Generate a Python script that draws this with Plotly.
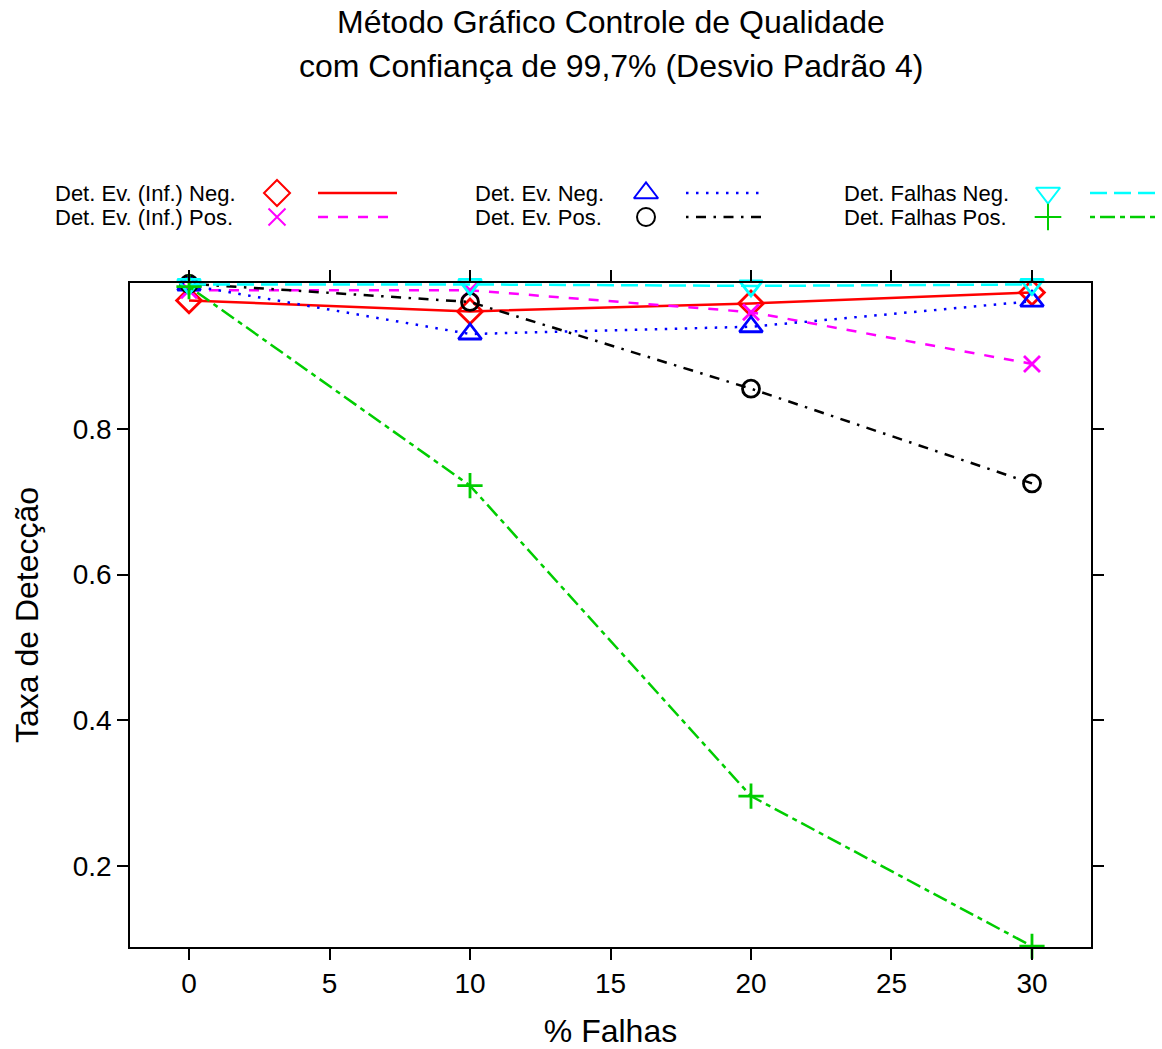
import plotly.graph_objects as go

W, H = 1162, 1049

falhas = [0, 10, 20, 30]
series_names = ["Det. Ev. (Inf.) Neg.", "Det. Ev. (Inf.) Pos.", "Det. Ev. Neg.",
                "Det. Ev. Pos.", "Det. Falhas Neg.", "Det. Falhas Pos."]
ev_inf_neg = [0.976, 0.961, 0.972, 0.987]
ev_inf_pos = [0.990, 0.990, 0.960, 0.889]
ev_neg = [0.997, 0.930, 0.940, 0.975]
ev_pos = [0.999, 0.974, 0.855, 0.725]
falhas_neg = [0.998, 0.998, 0.996, 0.998]
falhas_pos = [0.995, 0.722, 0.296, 0.090]
values = [ev_inf_neg, ev_inf_pos, ev_neg, ev_pos, falhas_neg, falhas_pos]

x_ticks = [0, 5, 10, 15, 20, 25, 30]
y_ticks = [0.2, 0.4, 0.6, 0.8]

colors = ["#FF0000", "#FF00FF", "#0000FF", "#000000", "#00FFFF", "#00CD00"]
symbols = ["diamond-open", "x-thin-open", "triangle-up-open", "circle-open",
           "triangle-down-open", "cross-thin-open"]
msizes = [19, 16, 20, 17, 20, 18]
dashes = ["solid", "10px,10px", "2.5px,7.5px", "2.5px,7.5px,10px,7.5px",
          "17px,7px", "5px,5px,15px,5px"]

# plot area in pixels
L, R, T, B = 130, 1091, 283, 947

fig = go.Figure()
for name, ys, c, s, ms, d in zip(series_names, values, colors, symbols, msizes, dashes):
    fig.add_trace(go.Scatter(
        x=falhas, y=ys, mode="lines+markers", name=name,
        line=dict(color=c, width=2.5, dash=d),
        marker=dict(symbol=s, size=ms, color=c, line=dict(color=c, width=2.8)),
        cliponaxis=False, showlegend=False, xaxis="x", yaxis="y"))

# custom legend (pixel coordinates on an overlay axis)
col_text_x = [54, 474, 843]
col_mark_x = [277, 646, 1048]
col_line_x = [(318, 397), (686, 765), (1090, 1160)]
row_y = [193, 217]
annotations = []
for i, (name, c, s, ms, d) in enumerate(zip(series_names, colors, symbols, msizes, dashes)):
    col, row = i // 2, i % 2
    ty = row_y[row]
    annotations.append(dict(xref="x2", yref="y2", x=col_text_x[col], y=ty, text=name,
                            showarrow=False, xanchor="left", yanchor="middle", borderpad=0,
                            font=dict(size=22, color="black")))
    fig.add_trace(go.Scatter(
        x=[col_mark_x[col]], y=[ty], mode="markers", xaxis="x2", yaxis="y2",
        marker=dict(symbol=s, size=ms + 1, color=c, line=dict(color=c, width=2)),
        showlegend=False, hoverinfo="skip", cliponaxis=False))
    x0, x1 = col_line_x[col]
    fig.add_trace(go.Scatter(
        x=[x0, x1], y=[ty, ty], mode="lines", xaxis="x2", yaxis="y2",
        line=dict(color=c, width=2.5, dash=d),
        showlegend=False, hoverinfo="skip", cliponaxis=False))

annotations += [
    dict(xref="paper", yref="paper", x=611 / W, y=1 - 22 / H, text="Método Gráfico Controle de Qualidade",
         showarrow=False, xanchor="center", yanchor="middle", font=dict(size=32, color="black")),
    dict(xref="paper", yref="paper", x=611 / W, y=1 - 66 / H, text="com Confiança de 99,7% (Desvio Padrão 4)",
         showarrow=False, xanchor="center", yanchor="middle", font=dict(size=32, color="black")),
]

axis_common = dict(showgrid=False, zeroline=False, showline=True, linecolor="black", linewidth=1.5,
                   mirror="ticks", ticks="outside", ticklen=11, tickwidth=1.5, tickcolor="black",
                   tickfont=dict(size=28, color="black"))

fig.update_layout(
    width=W, height=H, autosize=False,
    margin=dict(l=0, r=0, t=0, b=0),
    paper_bgcolor="white", plot_bgcolor="rgba(0,0,0,0)",
    font=dict(family="Liberation Sans, Arial, sans-serif", color="black"),
    xaxis=dict(domain=[L / W, R / W], range=[-2.1, 32.1], tickvals=x_ticks,
               title=dict(text="% Falhas", font=dict(size=32), standoff=23), **axis_common),
    yaxis=dict(domain=[1 - B / H, 1 - T / H], range=[0.089, 1.0], tickvals=y_ticks,
               ticktext=["0.2", "0.4", "0.6", "0.8"],
               title=dict(text="Taxa de Detecção", font=dict(size=32), standoff=25), **axis_common),
    xaxis2=dict(domain=[0, 1], range=[0, W], visible=False, anchor="y2"),
    yaxis2=dict(domain=[0, 1], range=[H, 0], visible=False, anchor="x2"),
    annotations=annotations,
    showlegend=False,
)

fig.write_html("out.html")
